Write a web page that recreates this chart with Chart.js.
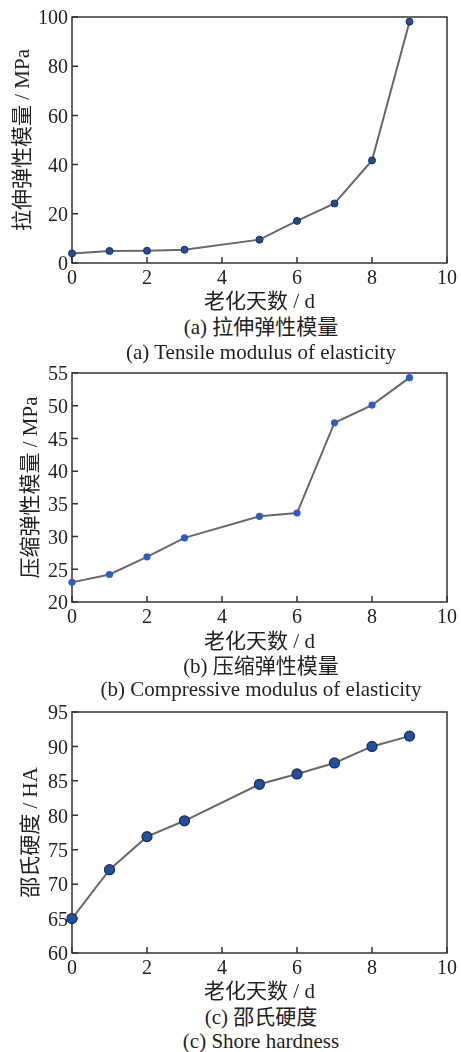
<!DOCTYPE html>
<html><head><meta charset="utf-8">
<script src="https://cdn.jsdelivr.net/npm/chart.js@4.4.1/dist/chart.umd.min.js"></script>
<style>
html,body{margin:0;padding:0;background:#fff;}
#wrap{position:relative;width:461px;height:1052px;overflow:hidden;background:#fff;}
canvas{position:absolute;left:0;}
.cap{position:absolute;left:0;width:522px;text-align:center;font-family:'Liberation Serif','Noto Sans CJK SC',serif;font-size:21px;line-height:24px;color:#222;white-space:nowrap;}
</style>
</head><body>
<div id="wrap">
<canvas id="c1"></canvas>
<canvas id="c2"></canvas>
<canvas id="c3"></canvas>
<div class="cap" style="top:315px">(a) 拉伸弹性模量</div>
<div class="cap" style="top:340px">(a) Tensile modulus of elasticity</div>
<div class="cap" style="top:654px">(b) 压缩弹性模量</div>
<div class="cap" style="top:677px">(b) Compressive modulus of elasticity</div>
<div class="cap" style="top:1005px">(c) 邵氏硬度</div>
<div class="cap" style="top:1029px">(c) Shore hardness</div>
</div>
<script>
// ---- data ----
const days = [0, 1, 2, 3, 5, 6, 7, 8, 9];
const tensileModulus = [3.9, 4.9, 5.0, 5.4, 9.5, 17.1, 24.2, 41.7, 98.1];
const compressiveModulus = [23.0, 24.2, 26.9, 29.8, 33.1, 33.6, 47.4, 50.1, 54.3];
const shoreHardness = [65.0, 72.1, 76.9, 79.2, 84.5, 86.0, 87.6, 90.0, 91.5];
const xTicks = [0, 2, 4, 6, 8, 10];
const xTitle = '老化天数 / d';
const yTitles = ['拉伸弹性模量 / MPa', '压缩弹性模量 / MPa', '邵氏硬度 / HA'];

const FONT = "'Liberation Serif','Noto Sans CJK SC',serif";
const TXT = '#222';

const framePlugin = {
  id: 'frame',
  beforeDatasetsDraw(chart) {
    const {ctx, chartArea: a, scales: {x, y}} = chart;
    ctx.save();
    ctx.strokeStyle = '#333';
    ctx.lineWidth = 1.5;
    ctx.strokeRect(a.left, a.top, a.right - a.left, a.bottom - a.top);
    ctx.beginPath();
    x.ticks.forEach(t => { const p = x.getPixelForValue(t.value); ctx.moveTo(p, a.bottom); ctx.lineTo(p, a.bottom - 6); });
    y.ticks.forEach(t => { const p = y.getPixelForValue(t.value); ctx.moveTo(a.left, p); ctx.lineTo(a.left + 6, p); });
    ctx.stroke();
    ctx.restore();
  }
};

function makeChart(id, cfg) {
  const cv = document.getElementById(id);
  const H = Math.round(cfg.xlabelY + 12.6 - cfg.canvasTop);
  cv.width = 461; cv.height = H;
  cv.style.width = '461px'; cv.style.height = H + 'px';
  cv.style.top = cfg.canvasTop + 'px';
  const xH = H - (cfg.plotBottom - cfg.canvasTop);
  new Chart(cv, {
    type: 'line',
    data: {
      datasets: [{
        data: days.map((d, i) => ({x: d, y: cfg.values[i]})),
        borderColor: '#686868',
        borderWidth: 2,
        pointRadius: cfg.r,
        pointBackgroundColor: cfg.fill,
        pointBorderColor: cfg.stroke,
        pointBorderWidth: cfg.bw,
        tension: 0,
        clip: false
      }]
    },
    options: {
      responsive: false,
      animation: false,
      devicePixelRatio: 1,
      layout: {autoPadding: false, padding: {top: cfg.plotTop - cfg.canvasTop, right: 10, left: 0, bottom: 0}},
      plugins: {legend: {display: false}, tooltip: {enabled: false}},
      scales: {
        x: {
          type: 'linear', min: 0, max: 10,
          afterBuildTicks: s => { s.ticks = xTicks.map(v => ({value: v})); },
          afterFit: s => { s.height = xH; },
          grid: {display: false, drawTicks: false},
          border: {display: false},
          ticks: {font: {family: FONT, size: 20}, color: TXT, padding: 4, maxRotation: 0, autoSkip: false},
          title: {display: true, text: xTitle, font: {family: FONT, size: 21}, color: TXT, padding: {top: 0, bottom: 0}}
        },
        y: {
          type: 'linear', min: cfg.ymin, max: cfg.ymax,
          ticks: {stepSize: cfg.step, font: {family: FONT, size: 20}, color: TXT, padding: 4, labelOffset: 2},
          afterFit: s => { s.width = 72; },
          grid: {display: false, drawTicks: false},
          border: {display: false},
          title: {display: true, text: cfg.ytitle, font: {family: FONT, size: 21}, color: TXT, padding: {top: cfg.ytPad, bottom: 0}}
        }
      }
    },
    plugins: [framePlugin]
  });
}

makeChart('c1', {canvasTop: 0, plotTop: 17, plotBottom: 263, xlabelY: 302, values: tensileModulus,
  ymin: 0, ymax: 100, step: 20, ytitle: yTitles[0], ytPad: 10.4,
  r: 3.5, fill: '#1f4e9e', stroke: '#1a2d55', bw: 1});
makeChart('c2', {canvasTop: 340, plotTop: 373, plotBottom: 602, xlabelY: 642, values: compressiveModulus,
  ymin: 20, ymax: 55, step: 5, ytitle: yTitles[1], ytPad: 18.4,
  r: 3.6, fill: '#2b5cc8', stroke: '#2b5cc8', bw: 0});
makeChart('c3', {canvasTop: 690, plotTop: 712, plotBottom: 953, xlabelY: 992, values: shoreHardness,
  ymin: 60, ymax: 95, step: 5, ytitle: yTitles[2], ytPad: 18.4,
  r: 5, fill: '#1f50a6', stroke: '#1a2c55', bw: 1.2});
</script>
</body></html>
